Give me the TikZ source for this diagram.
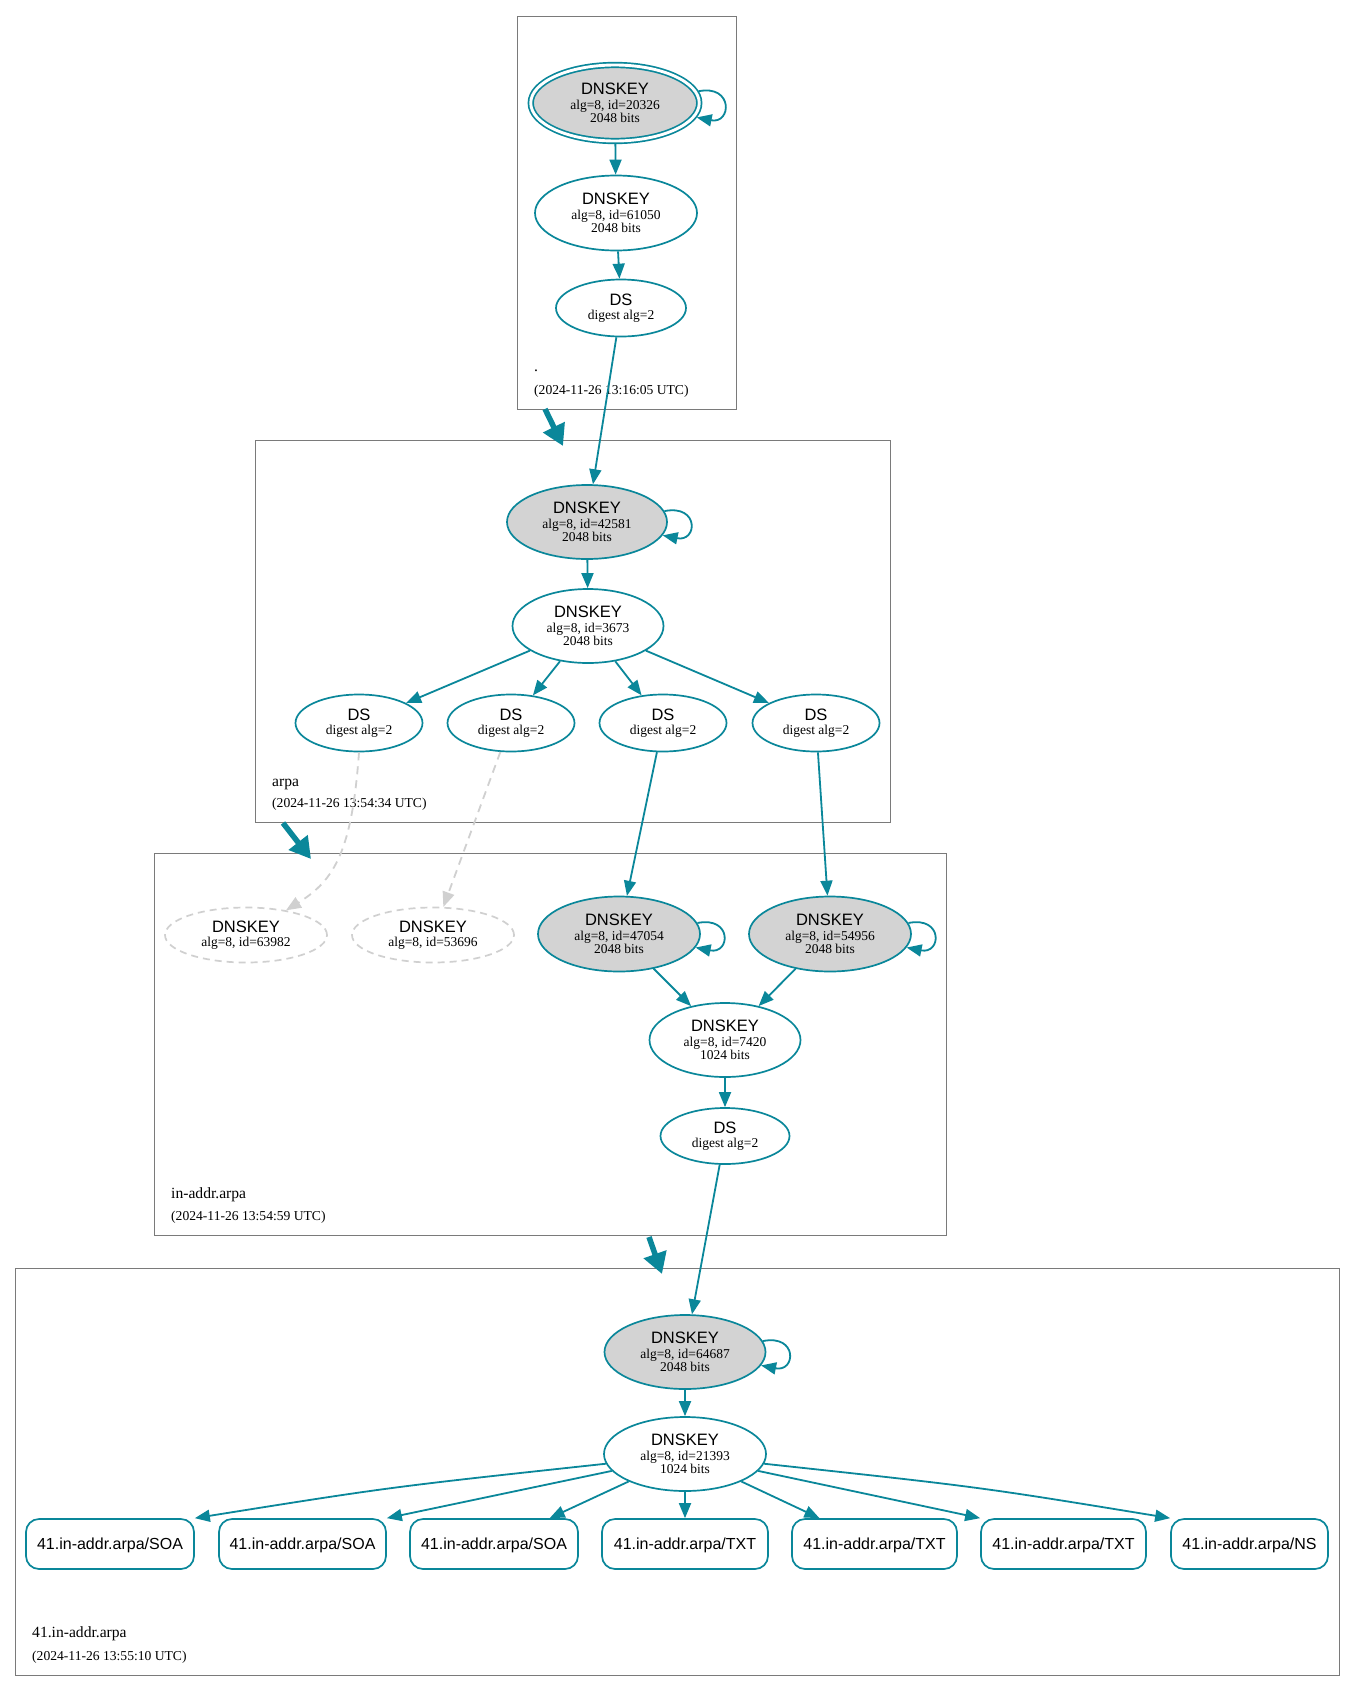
\documentclass[tikz,border=0pt]{standalone}
\usepackage{fontspec}
\setmainfont{Liberation Serif}
\newfontfamily\hvfont{Liberation Sans}
\usetikzlibrary{shapes.geometric,arrows.meta,calc}
\definecolor{dteal}{HTML}{0A879A}
\definecolor{kgray}{HTML}{D3D3D3}
\definecolor{dgray}{HTML}{D0D0D0}
\definecolor{cbord}{HTML}{7A7A7A}
\newcommand\bigf{\hvfont\fontsize{16.5}{16}\selectfont}
\newcommand\recf{\hvfont\fontsize{16}{16}\selectfont}
\newcommand\subf{\fontsize{13.5}{13}\selectfont}
\newcommand\clf{\fontsize{15.6}{16}\selectfont}
\newcommand\tsf{\fontsize{13.6}{14}\selectfont}
\newcommand\kloop[1]{\draw[edge] (#1.8) .. controls ($(#1.8)+(35,-7)$) and ($(#1.-10)+(35,7)$) .. (#1.-10);}
\tikzset{
 key/.style={ellipse, draw=dteal, line width=1.7pt, inner sep=0pt, align=center, font=\subf, minimum width=162pt, minimum height=74pt},
 ksk/.style={key, fill=kgray},
 dsn/.style={key, minimum width=130pt, minimum height=56pt},
 gone/.style={ellipse, draw=dgray, dash pattern=on 7pt off 5pt, line width=1.7pt, inner sep=0pt, align=center, font=\subf, minimum width=162pt, minimum height=55pt},
 rec/.style={rectangle, rounded corners=13pt, draw=dteal, line width=1.7pt, font=\recf, minimum height=50pt, text height=11.5pt, text depth=0pt, inner sep=0pt},
 zone/.style={rectangle, draw=cbord, line width=1pt, anchor=north west, inner sep=0pt, outer sep=0pt},
 edge/.style={draw=dteal, line width=1.8pt, -{Triangle[length=15pt,width=12pt]}},
 insec/.style={draw=dgray, line width=1.8pt, dash pattern=on 8pt off 6pt, -{Triangle[length=15pt,width=12pt]}},
 deleg/.style={draw=dteal, line width=5.5pt, -{Triangle[length=21pt,width=23pt]}},
 zlabel/.style={anchor=base west, inner sep=0pt, font=\clf},
 zstamp/.style={anchor=base west, inner sep=0pt, font=\tsf},
}
\begin{document}
\begin{tikzpicture}[x=1pt,y=-1pt]
\useasboundingbox (0,0) rectangle (1355,1692);
\fill[white] (0,0) rectangle (1355,1692);

% zones
\node[zone, minimum width=219pt, minimum height=393pt] (z1) at (517,16) {};
\node[zone, minimum width=635pt, minimum height=382pt] (z2) at (255,440) {};
\node[zone, minimum width=792pt, minimum height=382pt] (z3) at (154,853) {};
\node[zone, minimum width=1324pt, minimum height=407pt] (z4) at (15,1268) {};

\node[zlabel] (l1) at (534,371) {.};
\node[zstamp] (s1) at (534,394) {(2024-11-26 13:16:05 UTC)};
\node[zlabel] (l2) at (272,786) {arpa};
\node[zstamp] (s2) at (272,807) {(2024-11-26 13:54:34 UTC)};
\node[zlabel] (l3) at (171,1198) {in-addr.arpa};
\node[zstamp] (s3) at (171,1220) {(2024-11-26 13:54:59 UTC)};
\node[zlabel] (l4) at (32,1637) {41.in-addr.arpa};
\node[zstamp] (s4) at (32,1660) {(2024-11-26 13:55:10 UTC)};

% root zone
\node[ksk, double=white, double distance=2.9pt, minimum width=168.5pt, minimum height=76pt, outer sep=3pt] (r1) at (615,103) {{\bigf DNSKEY}\\[1.5pt]alg=8, id=20326\\2048 bits};
\node[key, minimum width=162pt, minimum height=75pt] (r2) at (616,213) {{\bigf DNSKEY}\\[1.5pt]alg=8, id=61050\\2048 bits};
\node[dsn, minimum width=130pt, minimum height=57pt] (r3) at (621,308) {{\bigf DS}\\[1.5pt]digest alg=2};

% arpa
\node[ksk, minimum width=160pt] (a1) at (587,522) {{\bigf DNSKEY}\\[1.5pt]alg=8, id=42581\\2048 bits};
\node[key, minimum width=151pt] (a2) at (588,626) {{\bigf DNSKEY}\\[1.5pt]alg=8, id=3673\\2048 bits};
\node[dsn, minimum width=127pt, minimum height=57pt] (a3) at (359,723) {{\bigf DS}\\[1.5pt]digest alg=2};
\node[dsn, minimum width=127pt, minimum height=57pt] (a4) at (511,723) {{\bigf DS}\\[1.5pt]digest alg=2};
\node[dsn, minimum width=127pt, minimum height=57pt] (a5) at (663,723) {{\bigf DS}\\[1.5pt]digest alg=2};
\node[dsn, minimum width=127pt, minimum height=57pt] (a6) at (816,723) {{\bigf DS}\\[1.5pt]digest alg=2};

% in-addr.arpa
\node[gone] (i1) at (246,935) {{\bigf DNSKEY}\\[1.5pt]alg=8, id=63982};
\node[gone] (i2) at (433,935) {{\bigf DNSKEY}\\[1.5pt]alg=8, id=53696};
\node[ksk, minimum height=75pt] (i3) at (619,934) {{\bigf DNSKEY}\\[1.5pt]alg=8, id=47054\\2048 bits};
\node[ksk, minimum height=75pt] (i4) at (830,934) {{\bigf DNSKEY}\\[1.5pt]alg=8, id=54956\\2048 bits};
\node[key, minimum width=151pt] (i5) at (725,1040) {{\bigf DNSKEY}\\[1.5pt]alg=8, id=7420\\1024 bits};
\node[dsn, minimum width=129pt] (i6) at (725,1136) {{\bigf DS}\\[1.5pt]digest alg=2};

% 41.in-addr.arpa
\node[ksk, minimum width=161pt] (f1) at (685,1352) {{\bigf DNSKEY}\\[1.5pt]alg=8, id=64687\\2048 bits};
\node[key] (f2) at (685,1454) {{\bigf DNSKEY}\\[1.5pt]alg=8, id=21393\\1024 bits};
\node[rec, minimum width=168pt] (rec1) at (110,1544) {41.in-addr.arpa/SOA};
\node[rec, minimum width=167pt] (rec2) at (302.5,1544) {41.in-addr.arpa/SOA};
\node[rec, minimum width=168pt] (rec3) at (494,1544) {41.in-addr.arpa/SOA};
\node[rec, minimum width=166pt] (rec4) at (685,1544) {41.in-addr.arpa/TXT};
\node[rec, minimum width=165pt] (rec5) at (874.5,1544) {41.in-addr.arpa/TXT};
\node[rec, minimum width=165pt] (rec6) at (1063.5,1544) {41.in-addr.arpa/TXT};
\node[rec, minimum width=157pt] (rec7) at (1249.5,1544) {41.in-addr.arpa/NS};

% edges
\kloop{r1}
\draw[edge] (r1) -- (r2);
\draw[edge] (r2) -- (r3);
\draw[edge] (r3) -- (a1);
\kloop{a1}
\draw[edge] (a1) -- (a2);
\foreach \nn in {a3,a4,a5,a6} \draw[edge] (a2) -- (\nn);
\draw[insec] (a3.south) .. controls (352,850) and (335,880) .. (i1);
\draw[insec] (a4) -- (i2);
\draw[edge] (a5) -- (i3);
\draw[edge] (a6) -- (i4);
\kloop{i3}
\kloop{i4}
\draw[edge] (i3) -- (i5);
\draw[edge] (i4) -- (i5);
\draw[edge] (i5) -- (i6);
\draw[edge] (i6) -- (f1);
\kloop{f1}
\draw[edge] (f1) -- (f2);
\draw[edge] (f2.187) .. controls (390,1487) .. (rec1.north east);
\draw[edge] (f2.193) -- (rec2.north east);
\draw[edge] (f2.206) -- (rec3);
\draw[edge] (f2) -- (rec4);
\draw[edge] (f2.334) -- (rec5);
\draw[edge] (f2.347) -- (rec6.north west);
\draw[edge] (f2.353) .. controls (980,1487) .. (rec7.north west);

% delegation arrows
\coordinate (d1a) at (545,409); \coordinate (d1b) at (563,446);
\coordinate (d2a) at (283,823); \coordinate (d2b) at (311,859);
\coordinate (d3a) at (649,1237); \coordinate (d3b) at (662,1274);
\draw[deleg] (d1a) -- (d1b);
\draw[deleg] (d2a) -- (d2b);
\draw[deleg] (d3a) -- (d3b);
\end{tikzpicture}
\end{document}
